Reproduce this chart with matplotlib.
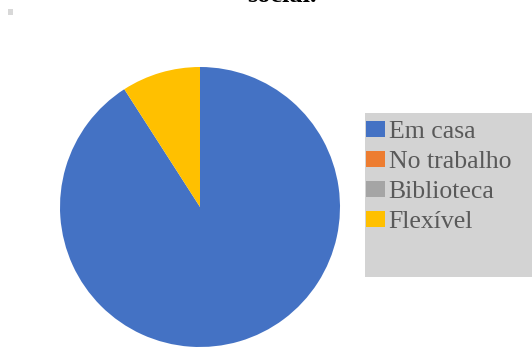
import matplotlib
matplotlib.use("Agg")
import matplotlib.pyplot as plt
from matplotlib.patches import Patch, Rectangle

plt.rcParams["font.family"] = ["Liberation Serif", "DejaVu Serif"]

# dados
categorias = ["Em casa", "No trabalho", "Biblioteca", "Flexível"]
valores = [10, 0, 0, 1]
cores = ["#4472c4", "#ed7d31", "#a5a5a5", "#ffc000"]

W, H = 532, 347
fig = plt.figure(figsize=(W / 100, H / 100), dpi=100)

# pizza: centro (200, 207) px, raio 140 px
ax = fig.add_axes([60 / W, 0, 280 / W, 280 / H])
ax.pie(valores, colors=cores, startangle=90, counterclock=False,
       radius=1, wedgeprops={"linewidth": 0})
ax.set_xlim(-1, 1)
ax.set_ylim(-1, 1)
ax.axis("off")

# titulo cortado no topo
fig.text(282 / W, 1 - 2 / H, "social.", ha="center", va="baseline",
         fontsize=19, fontweight="bold", color="black",
         family=["Liberation Serif", "DejaVu Serif"])

# pequeno artefato no canto
fig.patches.append(Rectangle((8 / W, 1 - 15 / H), 5 / W, 6 / H,
                             transform=fig.transFigure, color="#d8d8d8", lw=0))

# fundo da legenda
fig.patches.append(Rectangle((365 / W, 1 - 277 / H), 200 / W, 164 / H,
                             transform=fig.transFigure, facecolor="#d3d3d3",
                             edgecolor="none", zorder=0))

handles = [Patch(facecolor=c, edgecolor="none") for c in cores]
leg = fig.legend(handles, categorias, loc="upper left",
                 bbox_to_anchor=(366 / W, 1 - 121 / H), frameon=False,
                 prop={"family": ["Liberation Serif", "DejaVu Serif"], "size": 18.5},
                 handlelength=0.73, handleheight=0.6,
                 handletextpad=0.15, labelspacing=0.3, borderaxespad=0,
                 borderpad=0)
for t in leg.get_texts():
    t.set_color("#595959")

fig.savefig("out.png", dpi=100)
